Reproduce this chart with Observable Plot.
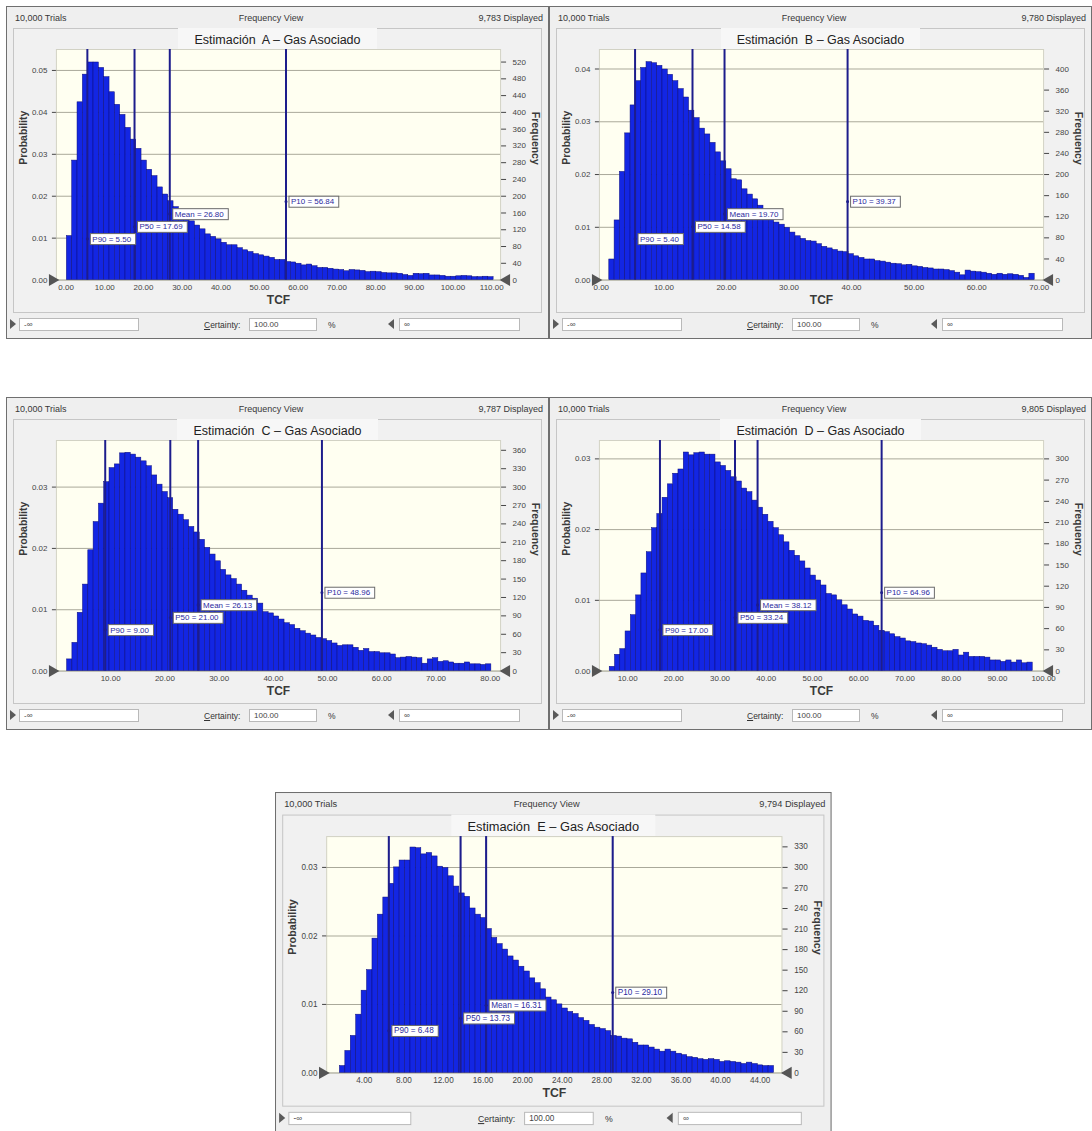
<!DOCTYPE html>
<html>
<head>
<meta charset="utf-8">
<script src="https://cdn.jsdelivr.net/npm/d3@7"></script>
<script src="https://cdn.jsdelivr.net/npm/@observablehq/plot@0.6"></script>
<style>
  html, body { margin:0; padding:0; background:#ffffff; }
  body { width:1092px; height:1131px; position:relative; overflow:hidden; font-family:"Liberation Sans", Arial, sans-serif; }
  .panel { position:absolute; width:543px; height:333px; background:#efefef; border:1px solid #6f6f6f; box-sizing:border-box; transform-origin:0 0; }
  .hdr { position:absolute; top:6px; font-size:9px; color:#383838; white-space:nowrap; }
  .inner { position:absolute; left:6px; top:21px; width:529px; height:285px; border:1px solid #c6c6c6; box-sizing:border-box; background:#f1f1f1; }
  .titlewrap { position:absolute; top:21px; left:0; width:541px; text-align:center; }
  .title { display:inline-block; padding:5px 16px 3px 16px; font-size:12.5px; color:#222; white-space:pre; background:#f7f7f7; }
  .chart { position:absolute; left:-1px; top:38px; }
  .box { position:absolute; top:311px; height:13px; background:#fff; border:1px solid #b9b9b9; box-sizing:border-box; font-size:8px; color:#444; padding-left:4px; line-height:11px; }
  .lbl { position:absolute; top:313px; font-size:8.5px; color:#333; }
  .triR { position:absolute; top:312px; width:0; height:0; border-top:5px solid transparent; border-bottom:5px solid transparent; border-left:6px solid #5a5a5a; }
  .triL { position:absolute; top:312px; width:0; height:0; border-top:5px solid transparent; border-bottom:5px solid transparent; border-right:6px solid #5a5a5a; }
</style>
</head>
<body>
<script>
// ---------------- DATA ----------------
const trialsLabel = "10,000";
const trialsN = 10000;
const panelIds = ["A", "B", "C", "D", "E"];
const displayedCounts = ["9,783", "9,780", "9,787", "9,805", "9,794"];
const pctNames = ["P90", "P50", "Mean", "P10"];

// Panel A
const probA = [0.0105,0.0285,0.0424,0.049,0.0519,0.0519,0.0506,0.0484,0.0448,0.0418,
  0.0394,0.0363,0.0335,0.0313,0.0285,0.0263,0.0248,0.0221,0.0204,0.0188,
  0.0174,0.0156,0.0148,0.014,0.013,0.0121,0.0109,0.0103,0.0097,0.0089,
  0.0083,0.0083,0.0076,0.0071,0.0067,0.0062,0.0059,0.0056,0.0053,0.0048,
  0.0048,0.0043,0.0042,0.0039,0.0035,0.0037,0.0033,0.0029,0.0029,0.0027,
  0.0025,0.0024,0.0021,0.0024,0.0023,0.0022,0.0019,0.002,0.0019,0.0017,
  0.0016,0.0016,0.0015,0.0012,0.001,0.0015,0.0014,0.0015,0.0011,0.0011,
  0.001,0.0008,0.0008,0.0009,0.001,0.0009,0.0007,0.0007,0.0008,0.0007];
const binRangeA = [0.2, 110.5];
const xDomainA = [-2.5, 112.3];
const yMaxA = 0.055;
const xTicksA = [0,10,20,30,40,50,60,70,80,90,100,110];
const probTicksA = [0,0.01,0.02,0.03,0.04,0.05];
const freqTicksA = [0,40,80,120,160,200,240,280,320,360,400,440,480,520];
const pctA = [5.50, 17.69, 26.80, 56.84];

// Panel B
const probB = [0.0039,0.0113,0.0205,0.0278,0.0331,0.0377,0.0402,0.0413,0.0411,0.0406,
  0.0399,0.0389,0.0377,0.0362,0.0346,0.0321,0.0307,0.0287,0.0276,0.026,
  0.0242,0.0225,0.021,0.0191,0.0189,0.0172,0.0162,0.0153,0.0141,0.0131,
  0.0118,0.0109,0.0105,0.0099,0.009,0.0083,0.0078,0.0074,0.0073,0.0068,
  0.0063,0.006,0.0057,0.0054,0.0053,0.0049,0.0045,0.0042,0.0039,0.0039,
  0.0036,0.0035,0.0033,0.0031,0.003,0.0028,0.0029,0.0026,0.0025,0.0023,
  0.0022,0.002,0.002,0.0019,0.0017,0.0014,0.0009,0.0018,0.0016,0.0015,
  0.0014,0.0012,0.001,0.0012,0.001,0.0011,0.001,0.0008,0.0004,0.0012];
const binRangeB = [1.28, 69.28];
const xDomainB = [-0.3, 70.7];
const yMaxB = 0.0437;
const xTicksB = [0,10,20,30,40,50,60,70];
const probTicksB = [0,0.01,0.02,0.03,0.04];
const freqTicksB = [0,40,80,120,160,200,240,280,320,360,400];
const pctB = [5.40, 14.58, 19.70, 39.37];

// Panel C
const probC = [0.0019,0.0046,0.0095,0.0141,0.0197,0.0243,0.0273,0.0308,0.0331,0.0337,
  0.0355,0.0356,0.0353,0.0348,0.0342,0.0334,0.0319,0.0304,0.0292,0.0282,
  0.0263,0.0255,0.0246,0.0235,0.0226,0.0214,0.0201,0.019,0.0179,0.0165,
  0.0156,0.015,0.0141,0.0131,0.0123,0.0118,0.011,0.0096,0.0094,0.0089,
  0.0084,0.0078,0.0075,0.0069,0.0065,0.0061,0.0058,0.0054,0.0052,0.0049,
  0.0045,0.0041,0.0042,0.0042,0.0038,0.0033,0.0036,0.0031,0.0031,0.0029,
  0.0029,0.0027,0.0021,0.0022,0.0023,0.0022,0.0021,0.0012,0.0019,0.0021,
  0.0015,0.0016,0.0014,0.0012,0.0012,0.0014,0.0011,0.0011,0.001,0.0011];
const binRangeC = [1.97, 80.2];
const xDomainC = [0, 81.9];
const yMaxC = 0.0376;
const xTicksC = [10,20,30,40,50,60,70,80];
const probTicksC = [0,0.01,0.02,0.03];
const freqTicksC = [0,30,60,90,120,150,180,210,240,270,300,330,360];
const pctC = [9.00, 21.00, 26.13, 48.96];

// Panel D
const probD = [0.0006,0.0023,0.0031,0.0056,0.0079,0.0107,0.0138,0.0168,0.0202,0.0222,
  0.0245,0.0264,0.0279,0.0285,0.0309,0.0305,0.0308,0.0309,0.0306,0.0306,
  0.0295,0.029,0.0283,0.0274,0.0268,0.0258,0.0253,0.0241,0.0231,0.0221,
  0.0211,0.0202,0.0192,0.0182,0.017,0.0163,0.0155,0.0145,0.0135,0.0128,
  0.0121,0.0109,0.0107,0.01,0.0093,0.0087,0.008,0.0077,0.0071,0.007,
  0.0064,0.0057,0.0055,0.0052,0.0048,0.0046,0.0042,0.0041,0.0039,0.0038,
  0.0036,0.0033,0.003,0.0028,0.0028,0.003,0.0022,0.0026,0.002,0.002,
  0.002,0.0019,0.0015,0.0015,0.0013,0.0015,0.0012,0.0015,0.0011,0.0012];
const binRangeD = [6.13, 97.65];
const xDomainD = [3.9, 100];
const yMaxD = 0.0326;
const xTicksD = [10,20,30,40,50,60,70,80,90,100];
const probTicksD = [0,0.01,0.02,0.03];
const freqTicksD = [0,30,60,90,120,150,180,210,240,270,300];
const pctD = [17.00, 33.24, 38.12, 64.96];

// Panel E
const probE = [0.001,0.0032,0.0054,0.0085,0.012,0.015,0.0196,0.0231,0.0256,0.0276,
  0.03,0.031,0.031,0.0329,0.0328,0.0319,0.0321,0.0316,0.0301,0.0299,
  0.0287,0.0272,0.0262,0.0257,0.024,0.0231,0.0226,0.021,0.0197,0.0188,
  0.018,0.017,0.0164,0.0155,0.0148,0.0138,0.0131,0.0122,0.011,0.0106,
  0.01,0.0094,0.0089,0.0086,0.008,0.0076,0.007,0.0066,0.0064,0.0061,
  0.0054,0.0053,0.005,0.0049,0.0044,0.004,0.004,0.0037,0.0034,0.0031,
  0.0034,0.0031,0.0028,0.0026,0.0023,0.0022,0.002,0.0019,0.002,0.0019,
  0.0016,0.0017,0.0016,0.0015,0.0013,0.0015,0.0013,0.0011,0.001,0.001];
const binRangeE = [1.54, 45.4];
const xDomainE = [0.2, 46.2];
const yMaxE = 0.0345;
const xTicksE = [4,8,12,16,20,24,28,32,36,40,44];
const probTicksE = [0,0.01,0.02,0.03];
const freqTicksE = [0,30,60,90,120,150,180,210,240,270,300,330];
const pctE = [6.48, 13.73, 16.31, 29.10];

// ---------------- LAYOUT ----------------
const configs = [
  {probs: probA, range: binRangeA, xDomain: xDomainA, yMax: yMaxA, xTicks: xTicksA, probTicks: probTicksA, freqTicks: freqTicksA, pct: pctA},
  {probs: probB, range: binRangeB, xDomain: xDomainB, yMax: yMaxB, xTicks: xTicksB, probTicks: probTicksB, freqTicks: freqTicksB, pct: pctB},
  {probs: probC, range: binRangeC, xDomain: xDomainC, yMax: yMaxC, xTicks: xTicksC, probTicks: probTicksC, freqTicks: freqTicksC, pct: pctC},
  {probs: probD, range: binRangeD, xDomain: xDomainD, yMax: yMaxD, xTicks: xTicksD, probTicks: probTicksD, freqTicks: freqTicksD, pct: pctD},
  {probs: probE, range: binRangeE, xDomain: xDomainE, yMax: yMaxE, xTicks: xTicksE, probTicks: probTicksE, freqTicks: freqTicksE, pct: pctE}
];
const placements = [
  {left: 6, top: 6, scale: 1},
  {left: 549, top: 6, scale: 1},
  {left: 6, top: 397, scale: 1},
  {left: 549, top: 397, scale: 1},
  {left: 275, top: 792, scale: 1.025}
];
const labelFrac = [0.178, 0.231, 0.286, 0.340];
const FONT = "Liberation Sans, Arial, sans-serif";
const NAVY = "#1d1d8c";

function el(tag, cls, parent, style, text) {
  const e = document.createElement(tag);
  if (cls) e.className = cls;
  if (style) Object.assign(e.style, style);
  if (text != null) e.textContent = text;
  parent.appendChild(e);
  return e;
}

function drawChart(host, cfg) {
  const n = cfg.probs.length;
  const w = (cfg.range[1] - cfg.range[0]) / n;
  const bars = cfg.probs.map((p, i) => ({x1: cfg.range[0] + i * w, x2: cfg.range[0] + (i + 1) * w, p}));
  const labs = cfg.pct.map((v, i) => ({x: v, y: labelFrac[i] * cfg.yMax, t: `${pctNames[i]} = ${v.toFixed(2)}`}));
  const svg = Plot.plot({
    width: 543, height: 270,
    marginLeft: 50, marginRight: 48, marginTop: 4, marginBottom: 35,
    style: {background: "transparent", fontFamily: FONT, fontSize: "8px", color: "#454545", overflow: "visible"},
    x: {domain: cfg.xDomain, label: null},
    y: {domain: [0, cfg.yMax], label: null},
    marks: [
      Plot.frame({fill: "#fffff1", stroke: "#d2d2c4"}),
      Plot.gridY(cfg.probTicks, {stroke: "#aaa99a", strokeOpacity: 1, strokeWidth: 1}),
      Plot.rectY(bars, {x1: "x1", x2: "x2", y: "p", fill: "#1326e3", stroke: "#0c0c7a", strokeWidth: 0.5, insetLeft: 0, insetRight: 0}),
      Plot.ruleX(cfg.pct, {stroke: NAVY, strokeWidth: 2}),
      Plot.text(labs, {x: "x", y: "y", text: "t", textAnchor: "start", dx: 5, fontSize: 8, fill: "#2b2ba0"}),
      Plot.dot(labs, {x: "x", y: "y", r: 1.5, fill: NAVY, stroke: "none"}),
      Plot.axisX(cfg.xTicks, {anchor: "bottom", tickFormat: d => d.toFixed(2), tickSize: 0, tickPadding: 4, label: null}),
      Plot.axisY(cfg.probTicks, {anchor: "left", tickFormat: d => d.toFixed(2), tickSize: 4, tickPadding: 5, label: null}),
      Plot.axisY(cfg.freqTicks.map(f => f / trialsN), {anchor: "right", tickFormat: d => String(Math.round(d * trialsN)), tickSize: 5, tickPadding: 7, label: null}),
      Plot.dot([cfg.xDomain[0]], {x: d => d, y: () => 0, symbol: "triangle", rotate: 90, r: 4.5, fill: "#555", stroke: "none", dx: -4}),
      Plot.dot([cfg.xDomain[1]], {x: d => d, y: () => 0, symbol: "triangle", rotate: -90, r: 4.5, fill: "#555", stroke: "none", dx: 6}),
      Plot.text(["Probability"], {text: d => d, frameAnchor: "left", dx: -33, rotate: -90, fontSize: 10.5, fontWeight: "bold", fill: "#3a3a3a"}),
      Plot.text(["Frequency"], {text: d => d, frameAnchor: "right", dx: 35, rotate: 90, fontSize: 10.5, fontWeight: "bold", fill: "#3a3a3a"}),
      Plot.text(["TCF"], {text: d => d, frameAnchor: "bottom", dy: 24, fontSize: 12, fontWeight: "bold", fill: "#3a3a3a"})
    ]
  });
  host.appendChild(svg);
  const re = /^(P\d0|Mean) = /;
  svg.querySelectorAll("text").forEach(t => {
    if (!re.test(t.textContent)) return;
    const b = t.getBBox();
    const r = document.createElementNS("http://www.w3.org/2000/svg", "rect");
    r.setAttribute("x", b.x - 2);
    r.setAttribute("y", b.y - 1);
    r.setAttribute("width", b.width + 6);
    r.setAttribute("height", b.height + 2);
    r.setAttribute("fill", "#ffffff");
    r.setAttribute("stroke", "#6a6a6a");
    r.setAttribute("stroke-width", "1");
    if (t.getAttribute("transform")) r.setAttribute("transform", t.getAttribute("transform"));
    t.parentNode.insertBefore(r, t);
  });
}

panelIds.forEach((id, k) => {
  const pl = placements[k];
  const p = el("div", "panel", document.body, {left: pl.left + "px", top: pl.top + "px", transform: `scale(${pl.scale})`});
  el("div", "hdr", p, {left: "8px"}, `${trialsLabel} Trials`);
  el("div", "hdr", p, {left: "0px", width: "528px", textAlign: "center"}, "Frequency View");
  el("div", "hdr", p, {right: "5px"}, `${displayedCounts[k]} Displayed`);
  el("div", "inner", p);
  const tw = el("div", "titlewrap", p);
  el("span", "title", tw, null, `Estimación  ${id} – Gas Asociado`);
  const host = el("div", "chart", p);
  drawChart(host, configs[k]);
  el("div", "triR", p, {left: "3px"});
  el("div", "box", p, {left: "12px", width: "120px"}, "-∞");
  const c = el("div", "lbl", p, {left: "197px"});
  c.innerHTML = "<u>C</u>ertainty:";
  el("div", "box", p, {left: "242px", width: "68px"}, "100.00");
  el("div", "lbl", p, {left: "321px"}, "%");
  el("div", "triL", p, {left: "381px"});
  el("div", "box", p, {left: "392px", width: "121px"}, "∞");
});
</script>
</body>
</html>
